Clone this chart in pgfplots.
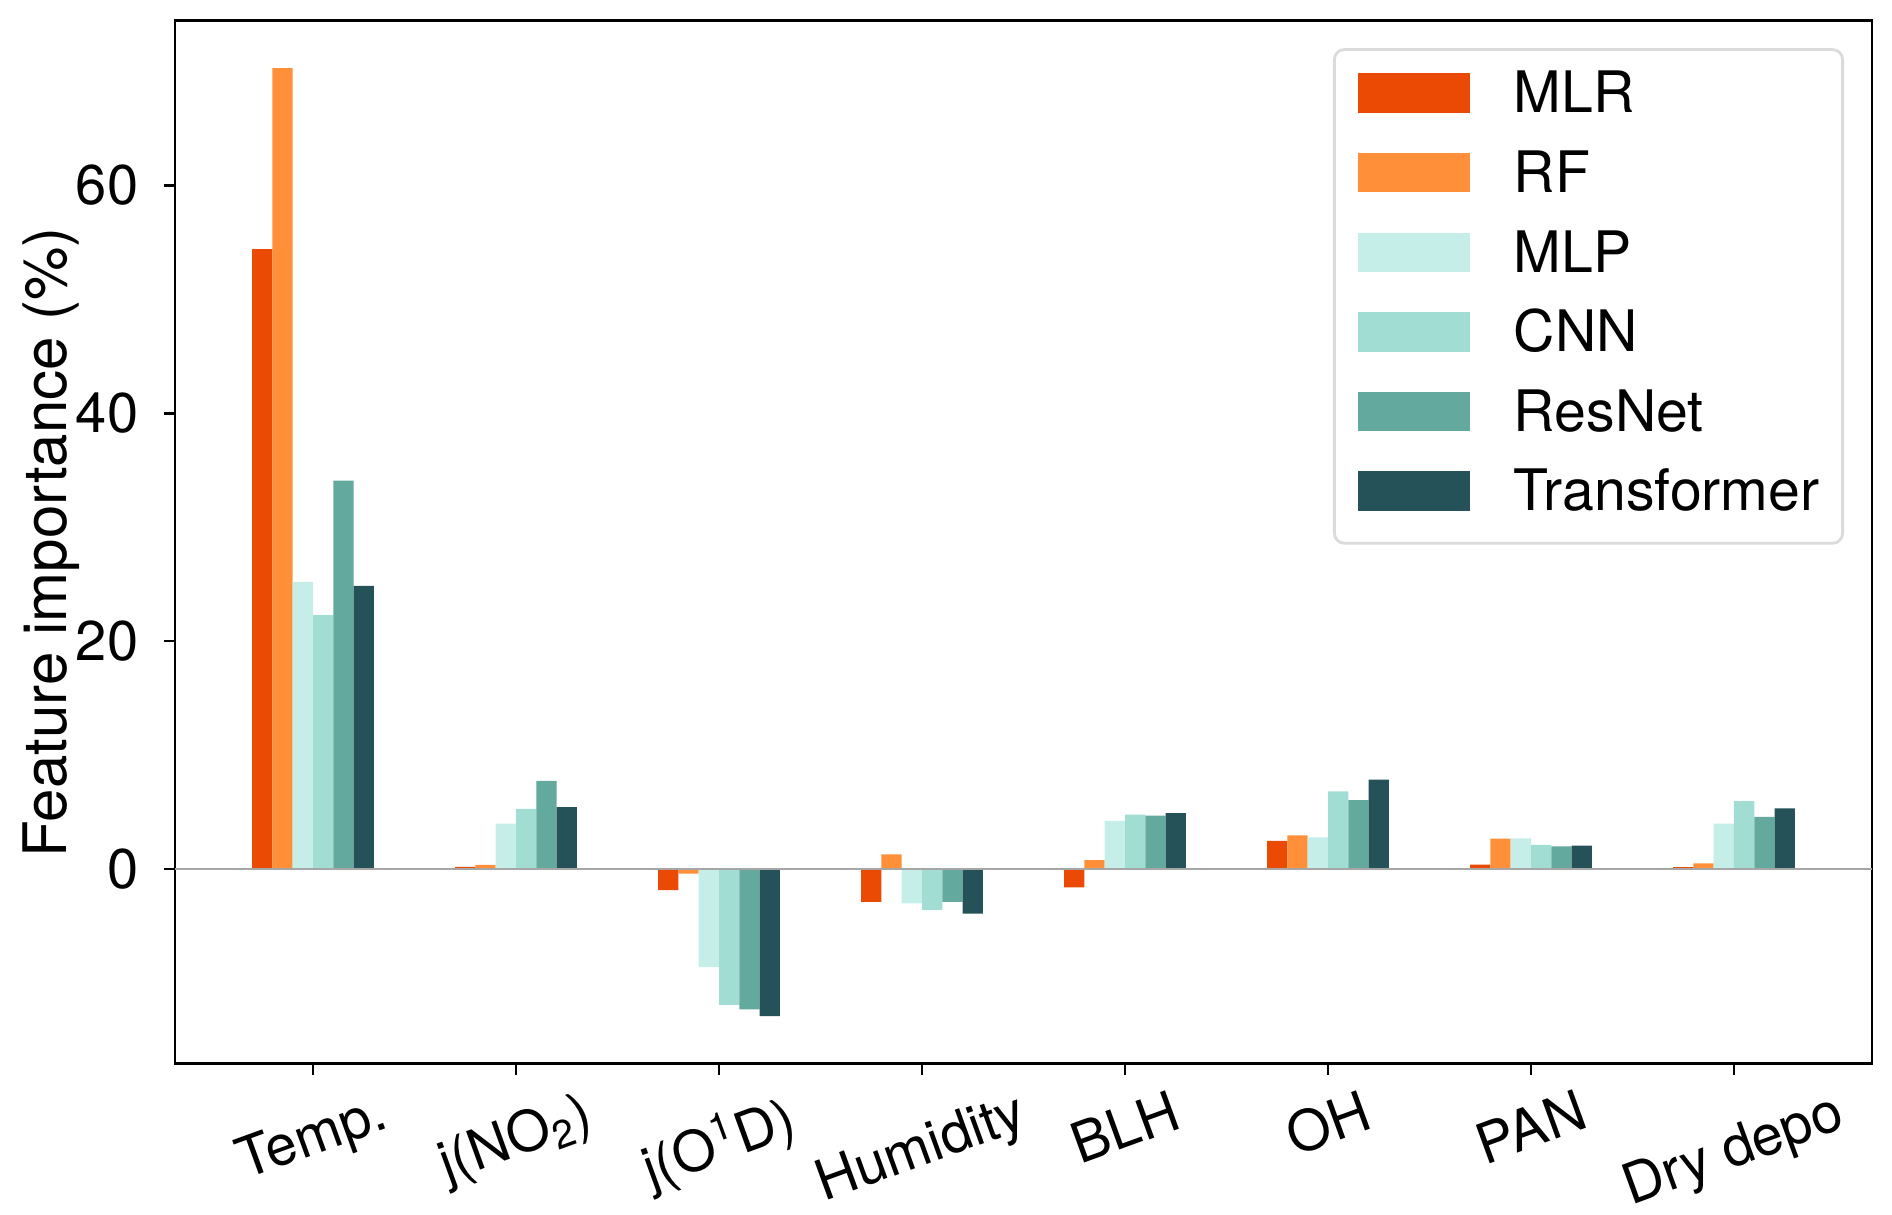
\documentclass[border=0pt]{standalone}
\usepackage{fontspec}
\setmainfont{TeX Gyre Heros}
\usepackage{graphicx}
\usepackage{pgfplots}
\usepackage{pgfplotstable}
\pgfplotsset{compat=1.18}
\definecolor{cMLR}{HTML}{EB4A05}
\definecolor{cRF}{HTML}{FF8F38}
\definecolor{cMLP}{HTML}{C5EEE8}
\definecolor{cCNN}{HTML}{A1DDD3}
\definecolor{cRes}{HTML}{63A99D}
\definecolor{cTr}{HTML}{255259}
\pgfplotsset{legimg/.style={legend image code/.code={\fill[##1,draw=none,sharp corners] (0pt,-3.85pt) rectangle (28pt,6.0pt);}}}
\pgfplotstableread{
x MLR RF MLP CNN ResNet Transformer
0 54.4 70.3 25.2 22.3 34.1 24.85
1 0.2 0.38 4.0 5.3 7.74 5.45
2 -1.83 -0.38 -8.6 -11.9 -12.3 -12.9
3 -2.87 1.3 -3.0 -3.57 -2.87 -3.9
4 -1.6 0.79 4.23 4.78 4.7 4.93
5 2.48 2.97 2.8 6.82 6.06 7.87
6 0.41 2.68 2.71 2.13 2.01 2.07
7 0.18 0.5 4.0 5.98 4.58 5.34
}\datatable
\begin{document}
\begin{tikzpicture}
\begin{axis}[
  at={(0pt,0pt)}, anchor=south west,
  scale only axis, width=424.25pt, height=260.75pt,
  xmin=-0.68, xmax=7.68, ymin=-17.06, ymax=74.46,
  axis line style={line width=0.6pt, black},
  tick style={line width=0.6pt, black},
  major tick length=2.8pt, tick align=outside,
  xtick pos=bottom, ytick pos=left,
  xtick={0,1,2,3,4,5,6,7},
  xticklabels={\rotatebox{20}{Temp.},\rotatebox{20}{j(NO\textsubscript{2})},\rotatebox{20}{j(O\textsuperscript{1}D)},\rotatebox{20}{Humidity},\rotatebox{20}{BLH},\rotatebox{20}{OH},\rotatebox{20}{PAN},\rotatebox{20}{Dry depo}},
  ytick={0,20,40,60},
  minor tick num=0,
  /pgf/number format/assume math mode=true,
  ticklabel style={font=\fontsize{14}{16}\selectfont},
  xticklabel style={anchor=north, inner sep=0pt, yshift=-3.3pt},
  yticklabel style={anchor=east, inner sep=0pt, xshift=-6.2pt},
  ylabel={Feature importance (\%)},
  ylabel style={at={(axis description cs:-0.0560,0.5)}, anchor=south, rotate=0, inner sep=0pt, font=\fontsize{15}{18}\selectfont},
  legend style={at={(axis description cs:1,1)}, xshift=-7pt, yshift=-6.9pt, anchor=north east,
    draw=black!14, line width=0.7pt, rounded corners=2.5pt, fill=white,
    inner xsep=5.8pt, inner ysep=5.8pt,
    nodes={inner sep=0pt, text height=10pt, text depth=2.3pt},
    row sep=7.6pt, column sep=11.1pt,
    font=\fontsize{14.3}{16}\selectfont},
  legend cell align=left,
]
\addplot[ybar, bar width=0.1, bar shift=-0.25, fill=cMLR, draw=none, legimg] table[x=x, y=MLR]{\datatable};
\addplot[ybar, bar width=0.1, bar shift=-0.15, fill=cRF, draw=none, legimg] table[x=x, y=RF]{\datatable};
\addplot[ybar, bar width=0.1, bar shift=-0.05, fill=cMLP, draw=none, legimg] table[x=x, y=MLP]{\datatable};
\addplot[ybar, bar width=0.1, bar shift=0.05, fill=cCNN, draw=none, legimg] table[x=x, y=CNN]{\datatable};
\addplot[ybar, bar width=0.1, bar shift=0.15, fill=cRes, draw=none, legimg] table[x=x, y=ResNet]{\datatable};
\addplot[ybar, bar width=0.1, bar shift=0.25, fill=cTr, draw=none, legimg] table[x=x, y=Transformer]{\datatable};
\legend{MLR,RF,MLP,CNN,ResNet,Transformer}
\draw[black!35, line width=0.35pt] (axis cs:-0.68,0) -- (axis cs:7.68,0);
\end{axis}
\pgfresetboundingbox
\path (-43.75pt,-37.6pt) rectangle (429.25pt,265.9pt);
\end{tikzpicture}
\end{document}
